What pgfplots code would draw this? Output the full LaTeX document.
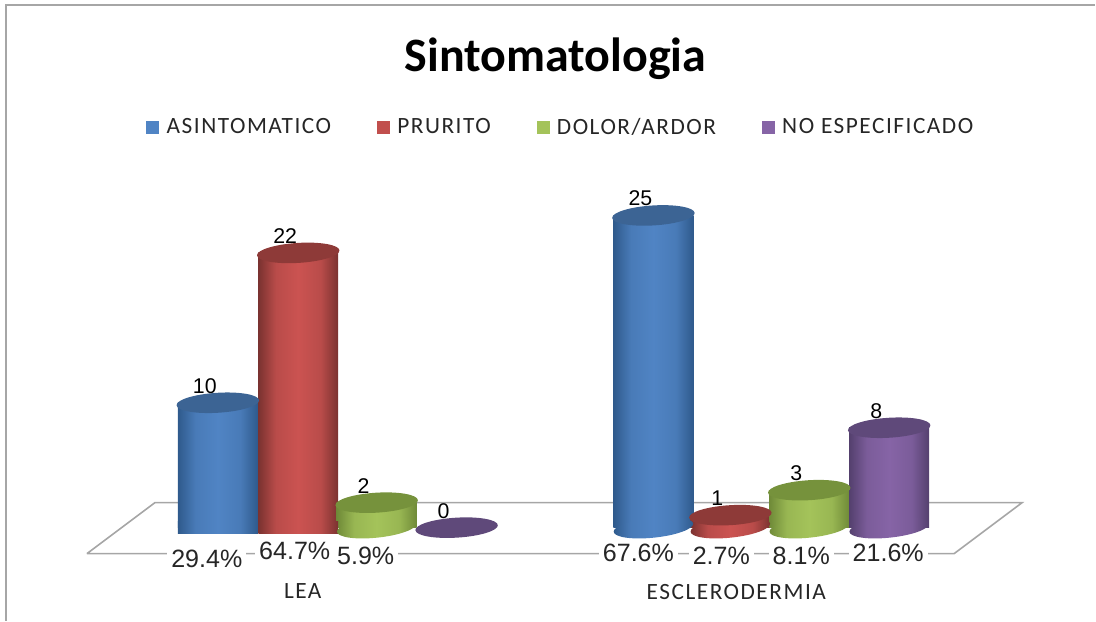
\documentclass[border=0pt]{standalone}
\usepackage{fontspec}
\setmainfont{Carlito}
\newfontfamily\lblfont[LetterSpace=6.5]{Carlito}
\newfontfamily\arialfont{Liberation Sans}
\usepackage{pgfplots}
\pgfplotsset{compat=1.18}
\definecolor{fr}{HTML}{A6A6A6}
\definecolor{bl}{HTML}{5084C4}\definecolor{bld}{HTML}{2F5A8C}\definecolor{blt}{HTML}{3C6494}
\definecolor{rd}{HTML}{CB5351}\definecolor{rdd}{HTML}{7A3230}\definecolor{rdt}{HTML}{8E3A38}
\definecolor{gr}{HTML}{A4C35A}\definecolor{grd}{HTML}{6F8A38}\definecolor{grt}{HTML}{76923C}
\definecolor{pu}{HTML}{8664A6}\definecolor{pud}{HTML}{54406E}\definecolor{put}{HTML}{5F497A}
\newcommand\cylshade[3]{\pgfdeclarehorizontalshading{#1}{100bp}{color(0bp)=(#3);color(25bp)=(#3);color(36bp)=(#2!78!#3);color(50bp)=(#2);color(64bp)=(#2!78!#3);color(75bp)=(#3);color(100bp)=(#3)}}
\cylshade{cylbl}{bl}{bld}\cylshade{cylrd}{rd}{rdd}\cylshade{cylgr}{gr}{grd}\cylshade{cylpu}{pu}{pud}
\pgfdeclareplotmark{cyltop}{\pgfpathellipse{\pgfpointorigin}{\pgfpointpolar{3.5}{31pt}}{\pgfpointpolar{93.5}{7.5pt}}\pgfusepathqfill}
\newcommand\cylbotmark[1]{\pgfdeclareplotmark{bot#1}{\pgfpathellipse{\pgfpointorigin}{\pgfpointpolar{6}{30pt}}{\pgfpointpolar{96}{7.5pt}}\pgfshadepath{cyl#1}{0}\pgfusepath{discard}}%
\pgfdeclareplotmark{flat#1}{\pgfsetcornersarced{\pgfpoint{4pt}{4pt}}\pgfpathrectanglecorners{\pgfpoint{-30pt}{-4.5pt}}{\pgfpoint{30pt}{4.5pt}}\pgfshadepath{cyl#1}{0}\pgfusepath{discard}}}
\cylbotmark{bl}\cylbotmark{rd}\cylbotmark{gr}\cylbotmark{pu}
\begin{document}
\begin{tikzpicture}
\begin{axis}[
  at={(0,0)}, anchor=south west, scale only axis,
  width=822pt, height=465.75pt,
  xmin=0, xmax=1096, ymin=-7.44, ymax=42.24,
  clip=false,
  axis line style={draw=none},
  major tick length=0pt,
  ytick=\empty,
  xtick={303,737},
  xticklabels={LEA,ESCLERODERMIA},
  xticklabel style={font=\fontsize{17.5}{17.5}\lblfont, yshift=31pt, text=black!85},
  /pgf/number format/assume math mode=true,
  title={Sintomatologia},
  title style={at={(0.5073,0.892)}, anchor=center, font=\fontsize{36}{36}\selectfont\bfseries},
  legend columns=4,
  legend style={draw=none, fill=none, at={(0.5125,0.795)}, anchor=center, inner sep=0pt,
    font=\fontsize{17.5}{17.5}\lblfont, text=black!85,
    /tikz/every even column/.append style={column sep=32.5pt}},
  nodes near coords style={font=\fontsize{16}{16}\arialfont, anchor=center, xshift=-9.75pt, yshift=12.75pt, inner sep=0pt, text=black},
  cyl/.style={ybar, bar width=60pt, bar shift=0pt, draw=none, forget plot, shade},
  legend image code/.code={\fill[#1,draw=none] (0pt,-4.9pt) rectangle (9.8pt,4.9pt); \path[draw=none,fill=none] (0pt,0pt) rectangle (13.2pt,0.1pt);},
]
% frame and floor
\addplot[fr, line width=1.5pt, forget plot] coordinates {(6,-7.44)(6,41.84)(1096,41.84)};
\addplot[fr, line width=1.2pt, forget plot] coordinates {(87,-2.08)(155,2)(1023,2)(955,-2.08)(87,-2.08)};
% legend keys
\addlegendimage{bl}\addlegendentry{ASINTOMATICO}
\addlegendimage{rd!95!black}\addlegendentry{PRURITO}
\addlegendimage{gr}\addlegendentry{DOLOR/ARDOR}
\addlegendimage{pu}\addlegendentry{NO ESPECIFICADO}
% ASINTOMATICO
\addplot[only marks, mark=flatbl, forget plot] coordinates {(218,0)};
\addplot[only marks, mark=botbl, forget plot] coordinates {(654,0)};
\addplot[cyl, shading=cylbl] coordinates {(218,10)};
\addplot[cyl, shading=cylbl] coordinates {(654,25)};
\addplot[only marks, mark=cyltop, color=blt, nodes near coords, forget plot] coordinates {(218,10)(654,25)};
% PRURITO
\addplot[only marks, mark=flatrd, forget plot] coordinates {(298.5,0)};
\addplot[only marks, mark=botrd, forget plot] coordinates {(731,0)};
\addplot[cyl, shading=cylrd] coordinates {(298.5,22)};
\addplot[cyl, shading=cylrd] coordinates {(731,1)};
\addplot[only marks, mark=cyltop, color=rdt, nodes near coords, forget plot] coordinates {(298.5,22)(731,1)};
% DOLOR/ARDOR
\addplot[only marks, mark=botgr, forget plot] coordinates {(377,0)(810,0)};
\addplot[cyl, shading=cylgr] coordinates {(377,2)};
\addplot[cyl, shading=cylgr] coordinates {(810,3)};
\addplot[only marks, mark=cyltop, color=grt, nodes near coords, forget plot] coordinates {(377,2)(810,3)};
% NO ESPECIFICADO
\addplot[only marks, mark=botpu, forget plot] coordinates {(890,0)};
\addplot[cyl, shading=cylpu] coordinates {(890,8)};
\addplot[only marks, mark=cyltop, color=put, nodes near coords, forget plot] coordinates {(457,0)(890,8)};
% percentage labels
\begin{scope}[every node/.style={font=\fontsize{18.8}{18.8}\arialfont, fill=white, inner xsep=3pt, inner ysep=1pt, text=black!85, anchor=center}]
\node at (axis cs:207,-2.48) {29.4\%};
\node at (axis cs:295,-1.84) {64.7\%};
\node at (axis cs:366,-2.24) {5.9\%};
\node at (axis cs:639,-2) {67.6\%};
\node at (axis cs:722,-2.24) {2.7\%};
\node at (axis cs:802,-2.24) {8.1\%};
\node at (axis cs:889,-2) {21.6\%};
\end{scope}
\end{axis}
\end{tikzpicture}
\end{document}
